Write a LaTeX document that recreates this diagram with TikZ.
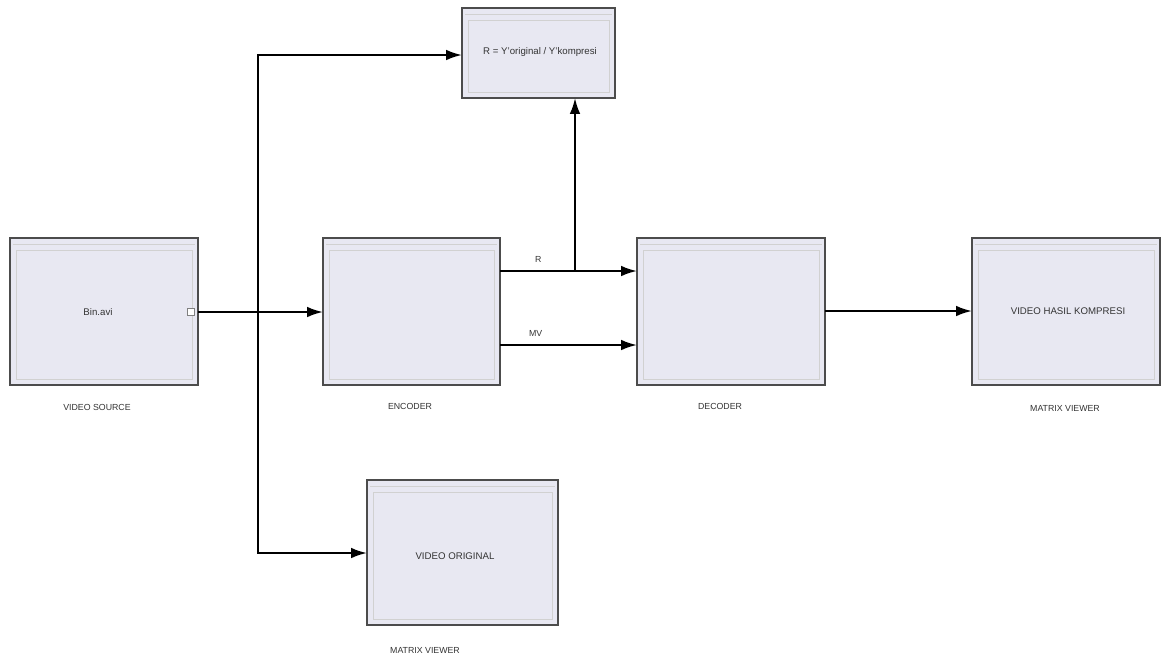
\documentclass[tikz,border=0pt]{standalone}
\usepackage{fontspec}
\setmainfont{Liberation Sans}
\usetikzlibrary{arrows.meta}
\definecolor{blockfill}{RGB}{232,232,242}
\begin{document}
\begin{tikzpicture}[x=0.02cm,y=-0.02cm,
  caption/.style={font=\fontsize{5}{6}\selectfont,text=black!80},
  inside/.style={font=\fontsize{5.5}{6.5}\selectfont,text=black!80},
  wire/.style={line width=1.2pt,-{Latex[length=9pt,width=6pt]}},
  framecol/.style={draw=black!18,line width=0.4pt}]
\useasboundingbox (0,0) rectangle (1162,657);

% block outlines: outer frame, inner frame and title strip
\newcommand{\blk}[5]{%
  \draw[draw=black!70,line width=0.8pt,fill=blockfill] (#1,#2) rectangle (#3,#4);
  \draw[framecol] ({#1+6},{#2+12}) rectangle ({#3-6},{#4-6});
  \draw[framecol] ({#1+3},{#2+6}) -- ({#3-3},{#2+6});
  \coordinate (#5-nw) at (#1,#2);}

\blk{10}{238}{198}{385}{src}
\blk{323}{238}{500}{385}{enc}
\blk{637}{238}{825}{385}{dec}
\blk{972}{238}{1160}{385}{vhk}
\blk{462}{8}{615}{98}{ratio}
\blk{367}{480}{558}{625}{vor}

% ports and connection points on the blocks
\node[inside] (srctext) at (98,312) {Bin.avi};
\node[draw=black!50,fill=white,minimum size=4pt,inner sep=0pt] (srcport) at (191,312) {};
\coordinate (srcout) at (198,312);
\coordinate (encin) at (323,312);
\coordinate (encR) at (500,271);
\coordinate (encMV) at (500,345);
\coordinate (decR) at (637,271);
\coordinate (decMV) at (637,345);
\coordinate (decout) at (825,311);
\coordinate (vhkin) at (972,311);
\coordinate (ratioin) at (462,55);
\coordinate (ratiobot) at (575,98);
\coordinate (vorin) at (367,553);
\coordinate (split) at (258,312);
\coordinate (tapR) at (575,271);

\node[inside] (ratiotext) at (540,52) {R = Y'original / Y'kompresi};
\node[inside] (vhktext) at (1068,311) {VIDEO HASIL KOMPRESI};
\node[inside] (vortext) at (455,556) {VIDEO ORIGINAL};

% captions under the blocks
\node[caption] (srccap) at (97,407) {VIDEO SOURCE};
\node[caption] (enccap) at (410,406) {ENCODER};
\node[caption] (deccap) at (720,406) {DECODER};
\node[caption] (vhkcap) at (1065,408) {MATRIX VIEWER};
\node[caption] (vorcap) at (425,650) {MATRIX VIEWER};

% signal lines
\draw[wire] (srcout) -- (encin);
\draw[wire] (split) |- (ratioin);
\draw[wire] (split) |- (vorin);
\draw[wire] (encR) -- node[caption,above=1pt,pos=0.28] (lblR) {R} (decR);
\draw[wire] (tapR) -- (ratiobot);
\draw[wire] (encMV) -- node[caption,above=1pt,pos=0.26] (lblMV) {MV} (decMV);
\draw[wire] (decout) -- (vhkin);
\end{tikzpicture}
\end{document}
